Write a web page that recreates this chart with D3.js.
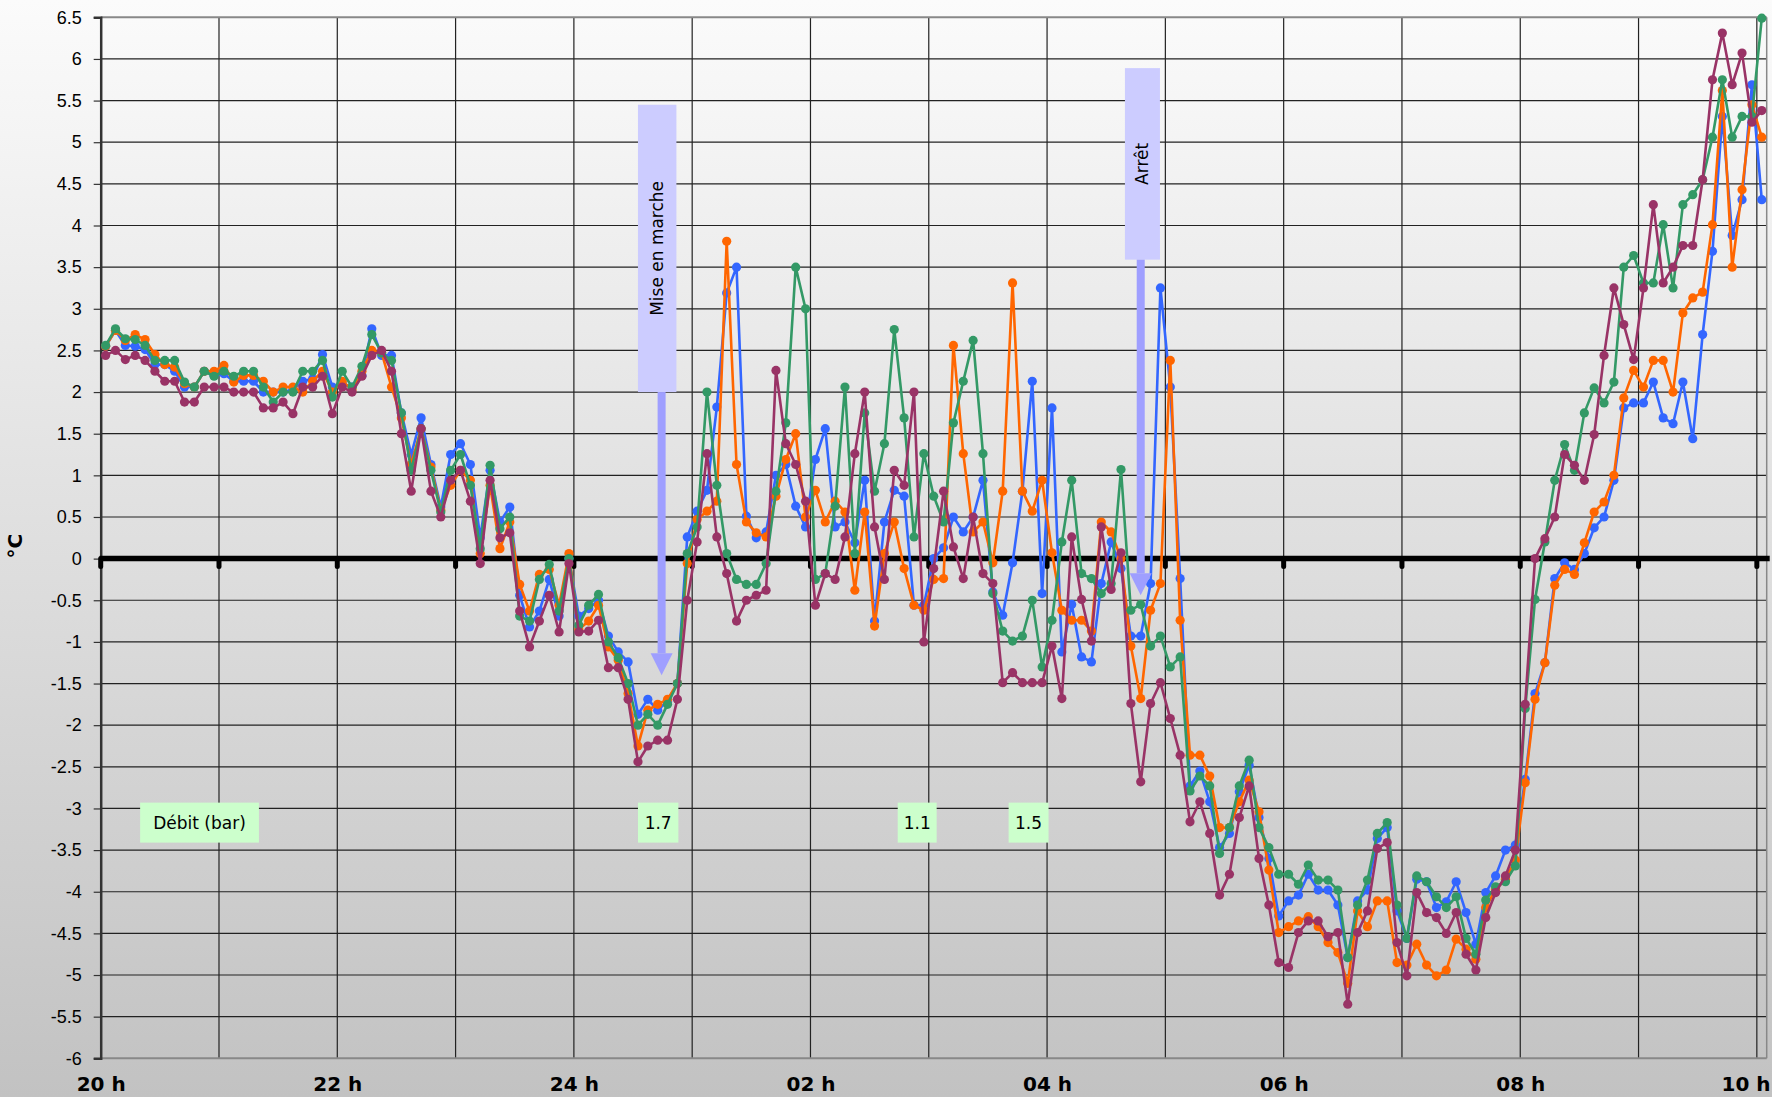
<!DOCTYPE html>
<html>
<head>
<meta charset="utf-8">
<script src="https://cdn.jsdelivr.net/npm/d3@7"></script>
<style>
	body { margin:0; overflow:hidden; background:#fff; }
	svg { display:block; }
</style>
</head>
<body>
<svg id="chart-1"></svg>
<script>

/*
	Températures (°C), un relevé toutes les 5 minutes, de 20 h à 10 h (169 points).
	Quatre séries : bleu, orange, vert, violet.
*/
const serieBleue = [
	2.55,2.74,2.56,2.55,2.51,2.33,2.33,2.25,2.06,2.06,2.25,2.2,2.22,2.13,2.13,2.13,2.0,2.0,2.0,2.03,
	2.13,2.16,2.45,2.06,2.1,2.06,2.2,2.76,2.44,2.44,1.75,1.25,1.69,1.13,0.62,1.25,1.38,1.13,0.25,1.06,
	0.44,0.62,-0.44,-0.82,-0.63,-0.25,-0.69,0.0,-0.69,-0.6,-0.5,-0.93,-1.12,-1.24,-1.87,-1.69,-1.82,-1.71,-1.5,0.26,
	0.57,0.82,1.82,3.19,3.5,0.51,0.25,0.32,1.0,1.13,0.63,0.38,1.19,1.56,0.38,0.44,0.19,0.94,-0.75,0.44,
	0.82,0.75,-0.56,-0.56,0.0,0.13,0.5,0.32,0.5,0.94,-0.4,-0.68,-0.05,0.81,2.13,-0.42,1.81,-1.12,-0.55,-1.18,
	-1.24,-0.3,0.2,-0.12,-0.93,-0.93,-0.3,3.25,2.06,-0.24,-2.73,-2.55,-2.92,-3.47,-3.3,-2.8,-2.48,-3.11,-3.6,-4.29,
	-4.11,-4.04,-3.79,-3.98,-3.98,-4.16,-4.79,-4.11,-3.98,-3.36,-3.23,-4.23,-4.56,-3.85,-3.88,-4.19,-4.12,-3.88,-4.25,-4.63,
	-4.01,-3.81,-3.5,-3.44,-2.65,-1.62,-1.25,-0.24,-0.05,-0.13,0.06,0.37,0.5,0.94,1.81,1.87,1.87,2.12,1.69,1.62,
	2.12,1.44,2.69,3.69,5.31,3.88,4.31,5.69,4.31
];
const serieOrange = [
	2.55,2.74,2.62,2.69,2.63,2.45,2.33,2.3,2.1,2.06,2.25,2.25,2.32,2.12,2.2,2.2,2.13,2.0,2.06,2.06,
	2.0,2.13,2.25,2.0,2.13,2.03,2.25,2.5,2.47,2.06,1.69,1.13,1.56,1.1,0.58,0.88,1.06,0.94,0.06,0.88,
	0.12,0.44,-0.31,-0.63,-0.19,-0.13,-0.56,0.06,-0.85,-0.75,-0.56,-1.06,-1.22,-1.62,-2.25,-1.82,-1.75,-1.69,-1.5,-0.06,
	0.47,0.57,0.69,3.81,1.13,0.44,0.31,0.26,0.75,1.19,1.5,0.5,0.82,0.44,0.69,0.56,-0.38,0.56,-0.81,0.06,
	0.44,-0.12,-0.56,-0.62,-0.25,-0.24,2.56,1.26,0.32,0.44,-0.05,0.81,3.31,0.81,0.57,0.94,0.07,-0.62,-0.74,-0.74,
	-0.87,0.44,0.32,0.0,-1.05,-1.68,-0.62,-0.3,2.38,-0.74,-2.36,-2.36,-2.61,-3.23,-3.23,-2.92,-2.66,-3.04,-3.74,-4.49,
	-4.42,-4.35,-4.3,-4.42,-4.61,-4.73,-5.1,-4.23,-4.42,-4.11,-4.11,-4.85,-4.88,-4.63,-4.88,-5.01,-4.94,-4.57,-4.69,-4.81,
	-4.19,-3.97,-3.85,-3.62,-2.69,-1.69,-1.25,-0.32,-0.13,-0.19,0.19,0.56,0.68,1.0,1.93,2.26,2.06,2.38,2.38,2.0,
	2.95,3.13,3.2,4.01,5.62,3.5,4.43,5.45,5.06
];
const serieVerte = [
	2.56,2.76,2.64,2.63,2.56,2.38,2.38,2.38,2.12,2.06,2.25,2.19,2.25,2.19,2.25,2.25,2.06,1.88,2.0,2.0,
	2.25,2.25,2.38,1.94,2.25,2.06,2.31,2.69,2.47,2.38,1.75,1.06,1.56,1.06,0.56,1.06,1.25,0.88,0.12,1.12,
	0.36,0.5,-0.69,-0.75,-0.25,-0.07,-0.63,0.0,-0.8,-0.56,-0.43,-1.0,-1.19,-1.5,-2.0,-1.87,-2.0,-1.75,-1.5,0.06,
	0.38,2.0,0.88,0.06,-0.25,-0.31,-0.31,-0.06,0.81,1.63,3.5,3.0,-0.25,-0.18,0.63,2.06,0.06,1.75,0.81,1.38,
	2.75,1.69,0.26,1.26,0.75,0.44,1.63,2.13,2.62,1.26,-0.42,-0.87,-0.99,-0.93,-0.5,-1.3,-0.74,0.2,0.94,-0.18,
	-0.24,-0.42,-0.3,1.07,-0.62,-0.55,-1.05,-0.93,-1.3,-1.18,-2.79,-2.61,-2.73,-3.54,-3.23,-2.73,-2.42,-3.23,-3.47,-3.79,
	-3.79,-3.91,-3.68,-3.86,-3.86,-3.98,-4.79,-4.16,-3.86,-3.3,-3.17,-4.16,-4.56,-3.81,-3.88,-4.06,-4.19,-4.06,-4.56,-4.75,
	-4.1,-3.94,-3.88,-3.69,-1.8,-0.49,0.2,0.94,1.37,1.06,1.75,2.05,1.87,2.12,3.5,3.64,3.31,3.31,4.01,3.25,
	4.25,4.37,4.55,5.06,5.75,5.06,5.31,5.31,6.49
];
const serieViolette = [
	2.44,2.5,2.39,2.44,2.38,2.25,2.13,2.13,1.88,1.88,2.06,2.06,2.06,2.0,2.0,2.0,1.81,1.81,1.88,1.74,
	2.06,2.06,2.19,1.74,2.06,2.0,2.19,2.44,2.5,2.25,1.5,0.81,1.56,0.81,0.5,0.94,1.06,0.69,-0.06,0.94,
	0.25,0.31,-0.63,-1.06,-0.75,-0.44,-0.88,-0.06,-0.88,-0.87,-0.74,-1.31,-1.31,-1.69,-2.44,-2.25,-2.18,-2.18,-1.69,-0.5,
	0.2,1.26,0.26,-0.18,-0.75,-0.5,-0.44,-0.38,2.26,1.38,1.13,0.69,-0.56,-0.18,-0.25,0.26,1.26,2.0,0.38,-0.25,
	1.06,0.88,2.0,-1.0,-0.12,0.81,0.14,-0.24,0.5,-0.18,-0.3,-1.49,-1.37,-1.49,-1.49,-1.49,-1.05,-1.68,0.26,-0.49,
	-0.99,0.38,-0.37,0.07,-1.74,-2.68,-1.74,-1.49,-1.92,-2.36,-3.16,-2.92,-3.3,-4.04,-3.79,-3.11,-2.73,-3.6,-4.16,-4.85,
	-4.91,-4.49,-4.35,-4.35,-4.54,-4.49,-5.35,-4.49,-4.23,-3.48,-3.41,-4.61,-5.01,-4.01,-4.25,-4.31,-4.5,-4.25,-4.75,-4.94,
	-4.31,-4.01,-3.81,-3.5,-1.75,0.0,0.24,0.5,1.25,1.12,0.94,1.49,2.44,3.25,2.81,2.39,3.25,4.25,3.31,3.5,
	3.76,3.76,4.55,5.75,6.31,5.69,6.07,5.24,5.38
];

const series = [
	{ name:'bleu',    color:'#3366ff', values:serieBleue },
	{ name:'orange',  color:'#ff6600', values:serieOrange },
	{ name:'vert',    color:'#339966', values:serieVerte },
	{ name:'violet',  color:'#993366', values:serieViolette }
];

// Axes
const yTicks = [-6,-5.5,-5,-4.5,-4,-3.5,-3,-2.5,-2,-1.5,-1,-0.5,0,0.5,1,1.5,2,2.5,3,3.5,4,4.5,5,5.5,6,6.5];
const hourLabels = ['20 h','22 h','24 h','02 h','04 h','06 h','08 h','10 h'];
const pointsPerHour = 12;

// Annotations : index (position dans la série) et valeur en °C
const debitLabels = ['Débit (bar)','1.7','1.1','1.5'];
const debitIndex = [[4.0,16.05],[54.5,58.6],[80.85,84.8],[92.1,96.15]];
const debitRange = [-2.93,-3.41];

const arrowLabels = ['Mise en marche','Arrêt'];
const arrowIndex = [[54.5,58.4],[103.9,107.45]];
const arrowShaft = [56.9,105.5];
const arrowBox = [[5.45,2.0],[5.89,3.59]];
const arrowTip = [-1.4,-0.44];


function chart() {
	
	const width = 1772;
	const height = 1097;
	const margin = {top:17.3, right:5.3, bottom:38.7, left:100.7};
	
	const svg = d3.select('svg#chart-1')
		.attr('width',width)
		.attr('height',height);
	
	const N = serieBleue.length;
	const x = d3.scaleLinear().domain([0,N]).range([margin.left, width-margin.right]);
	const y = d3.scaleLinear().domain([-6,6.5]).range([height-margin.bottom, margin.top]);
	
	// fond dégradé
	const grad = svg.append('defs').append('linearGradient')
		.attr('id','bg').attr('x1',0).attr('y1',0).attr('x2',0).attr('y2',1);
	grad.append('stop').attr('offset','0%').attr('stop-color','#fbfbfb');
	grad.append('stop').attr('offset','100%').attr('stop-color','#c2c2c2');
	svg.append('rect').attr('width',width).attr('height',height).attr('fill','url(#bg)');
	
	const hourIdx = d3.range(0, N, pointsPerHour);  // 0,12,...,168
	
	// grille
	svg.append('g').selectAll('line').data(yTicks.filter(d => d>-6 && d<6.5))
		.enter().append('line')
			.attr('x1',x(0)).attr('x2',x(N))
			.attr('y1',d => y(d)).attr('y2',d => y(d))
			.attr('stroke','#222').attr('stroke-width',1.2);
	svg.append('g').selectAll('line').data(hourIdx.filter(d => d>0))
		.enter().append('line')
			.attr('x1',d => x(d)).attr('x2',d => x(d))
			.attr('y1',y(6.5)).attr('y2',y(-6))
			.attr('stroke','#222').attr('stroke-width',1.2);
	
	// bords
	svg.append('line').attr('x1',x(0)).attr('x2',x(N)).attr('y1',y(6.5)).attr('y2',y(6.5))
		.attr('stroke','#888').attr('stroke-width',2);
	svg.append('line').attr('x1',x(0)).attr('x2',x(N)).attr('y1',y(-6)).attr('y2',y(-6))
		.attr('stroke','#888').attr('stroke-width',2);
	svg.append('line').attr('x1',x(N)).attr('x2',x(N)).attr('y1',y(6.5)).attr('y2',y(-6))
		.attr('stroke','#888').attr('stroke-width',1.5);
	
	// axe Y
	const yAxis = svg.append('g')
		.attr('transform',`translate(${x(0)},0)`)
		.call(d3.axisLeft(y).tickValues(yTicks).tickFormat(d => String(d)).tickSizeOuter(0).tickSize(7).tickPadding(12));
	yAxis.select('.domain').attr('stroke','#333').attr('stroke-width',2.5);
	yAxis.selectAll('.tick line').attr('stroke','#333').attr('stroke-width',1.2);
	yAxis.selectAll('text')
		.attr('font-family','"Liberation Sans", Arial, sans-serif')
		.attr('font-size',18).attr('fill','#000');
	
	svg.append('text')
		.attr('transform',`translate(22,${y(0.15)}) rotate(-90)`)
		.attr('text-anchor','middle')
		.attr('font-family','"Comic Sans MS", "DejaVu Sans", sans-serif')
		.attr('font-weight','bold').attr('font-size',20)
		.text('°C');
	
	// axe X (étiquettes)
	const xAxis = svg.append('g')
		.attr('transform',`translate(0,${y(-6)})`)
		.call(d3.axisBottom(x).tickValues(hourIdx.filter((d,i) => i%2===0))
			.tickFormat((d,i) => hourLabels[i]).tickSize(0).tickPadding(19));
	xAxis.select('.domain').remove();
	xAxis.selectAll('text')
		.attr('font-family','"Comic Sans MS", "DejaVu Sans", sans-serif')
		.attr('font-weight','bold').attr('font-size',20).attr('fill','#000');
	// le dernier libellé (10 h) touche le bord droit : on l'aligne à droite
	xAxis.selectAll('text').filter((d,i) => i === hourLabels.length-1)
		.attr('text-anchor','end')
		.attr('x', width-2 - x(hourIdx[hourIdx.length-1]));
	
	// ligne du zéro
	svg.append('line')
		.attr('x1',x(0)-1).attr('x2',x(N)+3)
		.attr('y1',y(0)).attr('y2',y(0))
		.attr('stroke','#000').attr('stroke-width',5.5);
	svg.append('g').selectAll('line').data(hourIdx)
		.enter().append('line')
			.attr('x1',d => x(d)).attr('x2',d => x(d))
			.attr('y1',y(0)).attr('y2',y(0)+8)
			.attr('stroke','#000').attr('stroke-width',5).attr('stroke-linecap','round');
	
	// séries
	const line = d3.line()
		.x((d,i) => x(i+0.5))
		.y(d => y(d));
	
	const gs = svg.append('g').selectAll('g').data(series)
		.enter().append('g');
	gs.append('path')
		.attr('d',d => line(d.values))
		.attr('fill','none')
		.attr('stroke',d => d.color)
		.attr('stroke-width',2.6)
		.attr('stroke-linejoin','round');
	gs.selectAll('circle').data(d => d.values.map(v => ({v:v, c:d.color})))
		.enter().append('circle')
			.attr('cx',(d,i) => x(i+0.5))
			.attr('cy',d => y(d.v))
			.attr('r',4.6)
			.attr('fill',d => d.c);
	
	// flèches
	arrowLabels.forEach((label,k) => {
		const g = svg.append('g');
		const cx = x(arrowShaft[k]);
		g.append('rect')
			.attr('x',x(arrowIndex[k][0])).attr('y',y(arrowBox[k][0]))
			.attr('width',x(arrowIndex[k][1])-x(arrowIndex[k][0]))
			.attr('height',y(arrowBox[k][1])-y(arrowBox[k][0]))
			.attr('fill','#ccccff');
		g.append('rect')
			.attr('x',cx-4).attr('y',y(arrowBox[k][1]))
			.attr('width',8).attr('height',y(arrowTip[k])-22-y(arrowBox[k][1]))
			.attr('fill','#9f9fff');
		const ty = y(arrowTip[k]);
		g.append('path')
			.attr('d',`M${cx-11},${ty-22} L${cx+11},${ty-22} L${cx},${ty} Z`)
			.attr('fill','#9f9fff');
		const mx = (x(arrowIndex[k][0])+x(arrowIndex[k][1]))/2;
		const my = (y(arrowBox[k][0])+y(arrowBox[k][1]))/2;
		g.append('text')
			.attr('transform',`translate(${mx+6},${my}) rotate(-90)`)
			.attr('text-anchor','middle')
			.attr('font-family','"Comic Sans MS", "DejaVu Sans", sans-serif')
			.attr('font-size',17)
			.text(label);
	});
	
	// débits
	debitLabels.forEach((label,k) => {
		const x0 = x(debitIndex[k][0]), x1 = x(debitIndex[k][1]);
		svg.append('rect')
			.attr('x',x0).attr('y',y(debitRange[0]))
			.attr('width',x1-x0).attr('height',y(debitRange[1])-y(debitRange[0]))
			.attr('fill','#ccffcc');
		svg.append('text')
			.attr('x',(x0+x1)/2).attr('y',(y(debitRange[0])+y(debitRange[1]))/2+6)
			.attr('text-anchor','middle')
			.attr('font-family','"Comic Sans MS", "DejaVu Sans", sans-serif')
			.attr('font-size',17)
			.text(label);
	});
}

chart();
</script>
</body>
</html>
